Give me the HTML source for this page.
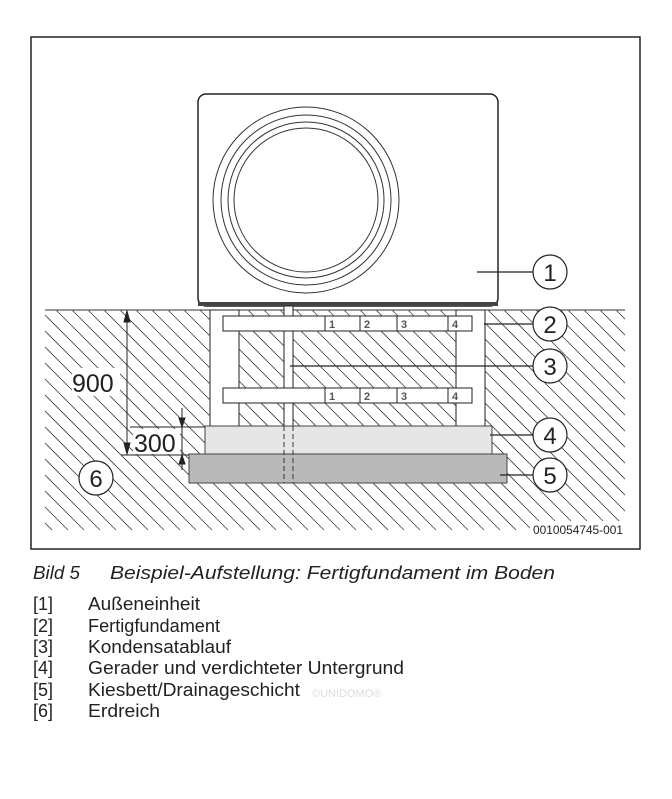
<!DOCTYPE html>
<html><head><meta charset="utf-8"><style>
body{margin:0;width:672px;height:799px;background:#fff;overflow:hidden}
svg{position:absolute;left:0;top:0}
</style></head><body>
<svg width="672" height="799" viewBox="0 0 672 799">
<defs>
<clipPath id="c"><rect x="45" y="310" width="580" height="220"/></clipPath>
</defs>
<rect x="31" y="37" width="609" height="512" fill="#fff" stroke="#222" stroke-width="1.5"/>
<g clip-path="url(#c)" stroke="#444" stroke-width="0.8" id="hatch"></g>
<line x1="45" y1="310" x2="625" y2="310" stroke="#333"/>
<!-- unit -->
<rect x="198" y="94" width="300" height="212" rx="8" fill="#fff" stroke="#222" stroke-width="1.5"/>
<rect x="198" y="302" width="300" height="4" fill="#444"/>
<g fill="none" stroke="#333" stroke-width="1">
<circle cx="306" cy="200" r="93"/><circle cx="306" cy="200" r="85"/><circle cx="306" cy="200" r="78"/><circle cx="306" cy="200" r="72"/>
</g>
<!-- stand -->
<rect x="210" y="310" width="29" height="116" fill="#fff" stroke="#222"/>
<rect x="456" y="310" width="29" height="116" fill="#fff" stroke="#222"/>
<rect x="284" y="306" width="9" height="120" fill="#fff" stroke="#222"/>
<g stroke="#222" fill="#fff">
<rect x="223" y="316" width="249" height="15"/>
<rect x="223" y="388" width="249" height="15"/>
</g>
<g stroke="#222">
<line x1="325" y1="316" x2="325" y2="331"/><line x1="360" y1="316" x2="360" y2="331"/><line x1="397" y1="316" x2="397" y2="331"/><line x1="448" y1="316" x2="448" y2="331"/>
<line x1="325" y1="388" x2="325" y2="403"/><line x1="360" y1="388" x2="360" y2="403"/><line x1="397" y1="388" x2="397" y2="403"/><line x1="448" y1="388" x2="448" y2="403"/>
</g>
<g font-family="Liberation Sans" font-size="11" font-weight="bold" fill="#555">
<text x="329" y="328">1</text><text x="364" y="328">2</text><text x="401" y="328">3</text><text x="452" y="328">4</text>
<text x="329" y="400">1</text><text x="364" y="400">2</text><text x="401" y="400">3</text><text x="452" y="400">4</text>
</g>
<rect x="205" y="426" width="287" height="28" fill="#e6e6e6" stroke="#444"/>
<rect x="189" y="454" width="318" height="29" fill="#b9b9b9" stroke="#444"/>
<g stroke="#333" stroke-dasharray="5,3"><line x1="284" y1="426" x2="284" y2="483"/><line x1="293" y1="426" x2="293" y2="483"/></g>
<!-- dims -->
<g stroke="#222" fill="#222">
<line x1="127" y1="316" x2="127" y2="449"/>
<polygon points="127,311 124,322 130,322"/><polygon points="127,454 124,443 130,443"/>
<line x1="130" y1="427" x2="205" y2="427"/><line x1="121" y1="455" x2="189" y2="455"/>
<line x1="182" y1="408" x2="182" y2="470"/>
<polygon points="182,427 179,418 185,418"/><polygon points="182,455 179,464 185,464"/>
</g>
<rect x="72" y="368" width="48" height="28" fill="#fff"/>
<rect x="133" y="429" width="47" height="25" fill="#fff"/>
<g font-family="Liberation Sans" fill="#222">
<text x="72" y="392" font-size="25">900</text>
<text x="134" y="452" font-size="25">300</text>
</g>
<!-- callouts -->
<g stroke="#222" fill="#fff" stroke-width="1.2">
<line x1="477" y1="272" x2="533" y2="272"/><line x1="484" y1="324" x2="533" y2="324"/><line x1="290" y1="366" x2="533" y2="366"/><line x1="490" y1="435" x2="533" y2="435"/><line x1="500" y1="475" x2="533" y2="475"/>
<circle cx="550" cy="272" r="17"/><circle cx="550" cy="324" r="17"/><circle cx="550" cy="366" r="17"/><circle cx="550" cy="435" r="17"/><circle cx="550" cy="475" r="17"/><circle cx="96" cy="478" r="17"/>
</g>
<g font-family="Liberation Sans" font-size="24" fill="#222" text-anchor="middle">
<text x="550" y="281">1</text><text x="550" y="333">2</text><text x="550" y="375">3</text><text x="550" y="444">4</text><text x="550" y="484">5</text><text x="96" y="487">6</text>
</g>
<rect x="530" y="521" width="95" height="15" fill="#fff"/>
<text x="533" y="534" font-family="Liberation Sans" font-size="11.5" fill="#222" textLength="90" lengthAdjust="spacingAndGlyphs">0010054745-001</text>
<g font-family="Liberation Sans" font-size="18" fill="#222">
<text x="33" y="579" font-style="italic" textLength="47" lengthAdjust="spacingAndGlyphs">Bild 5</text>
<text x="110" y="579" font-style="italic" textLength="445" lengthAdjust="spacingAndGlyphs">Beispiel-Aufstellung: Fertigfundament im Boden</text>
<text x="33" y="610">[1]</text><text x="88" y="610" textLength="112" lengthAdjust="spacingAndGlyphs">Außeneinheit</text>
<text x="33" y="632">[2]</text><text x="88" y="632" textLength="132" lengthAdjust="spacingAndGlyphs">Fertigfundament</text>
<text x="33" y="653">[3]</text><text x="88" y="653" textLength="143" lengthAdjust="spacingAndGlyphs">Kondensatablauf</text>
<text x="33" y="674">[4]</text><text x="88" y="674" textLength="316" lengthAdjust="spacingAndGlyphs">Gerader und verdichteter Untergrund</text>
<text x="33" y="696">[5]</text><text x="88" y="696" textLength="212" lengthAdjust="spacingAndGlyphs">Kiesbett/Drainageschicht</text>
<text x="33" y="717">[6]</text><text x="88" y="717" textLength="72" lengthAdjust="spacingAndGlyphs">Erdreich</text>
</g>
<text x="312" y="697" font-family="Liberation Sans" font-size="11" fill="#ddd">©UNIDOMO®</text>
</svg>
<script>
var g=document.getElementById('hatch'),s='';
for(var x=-200;x<640;x+=16){s+='<line x1="'+x+'" y1="310" x2="'+(x+220)+'" y2="530"/>';}
g.innerHTML=s;
</script>
</body></html>
